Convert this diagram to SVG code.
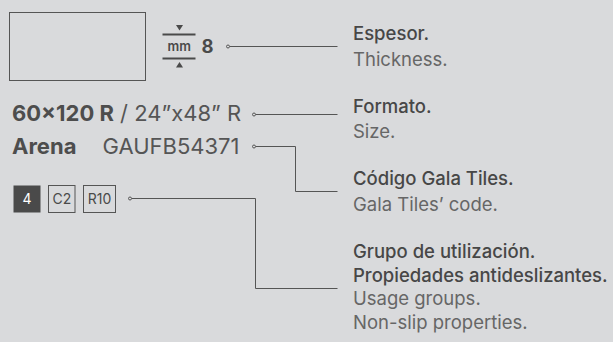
<svg xmlns="http://www.w3.org/2000/svg" width="613" height="342" viewBox="0 0 613 342">
<style>
.h{font-family:Inter,"Noto Sans",sans-serif;font-size:18.5px;font-weight:500;fill:#474747}
.s{font-family:Inter,"Noto Sans",sans-serif;font-size:18.5px;font-weight:400;fill:#666}
.lb{font-family:Inter,"Noto Sans",sans-serif;font-size:22px;font-weight:700;fill:#4d4d4d}
.lr{font-family:Inter,"Noto Sans",sans-serif;font-size:22px;font-weight:400;fill:#555}
.bx{fill:none;stroke:#555;stroke-width:1}
.bt{font-family:Inter,"Noto Sans",sans-serif;font-size:14px;font-weight:400;fill:#4a4a4a;text-anchor:middle}
.ln{fill:none;stroke:#555;stroke-width:1}
.dot{fill:#d9dadc;stroke:#555;stroke-width:1}
</style>
<rect width="613" height="342" fill="#d9dadc"/>
<g id="tile">
<rect x="9.5" y="12.5" width="136" height="68" class="bx" stroke-width="1.2"/>
</g>
<g id="thickness">
<polygon points="176,25 183,25 179.5,30.5" fill="#4a4a4a"/>
<line x1="162.5" y1="34.5" x2="195.5" y2="34.5" stroke="#4a4a4a" stroke-width="2"/>
<text x="179.2" y="51" text-anchor="middle" font-family="Inter,'Noto Sans',sans-serif" font-size="13" font-weight="600" fill="#4a4a4a">mm</text>
<line x1="162.5" y1="58.5" x2="195.5" y2="58.5" stroke="#4a4a4a" stroke-width="2"/>
<polygon points="176,67.5 183,67.5 179.5,62" fill="#4a4a4a"/>
<text x="201.5" y="52.5" font-family="Inter,'Noto Sans',sans-serif" font-size="18.5" font-weight="700" fill="#4a4a4a">8</text>
</g>
<g id="format">
<text y="120.5"><tspan x="12" class="lb">60×120 R</tspan><tspan class="lr"> / 24”x48” R</tspan></text>
</g>
<g id="code">
<text x="12" y="153.5" class="lb">Arena</text>
<text x="102.5" y="153.5" class="lr">GAUFB54371</text>
</g>
<g id="badges">
<rect x="13.5" y="185.5" width="27" height="27" fill="#4a4a4a"/>
<text x="27" y="204" class="bt" style="fill:#fff">4</text>
<rect x="48.5" y="185.5" width="26.5" height="27" class="bx"/>
<text x="61.8" y="204" class="bt">C2</text>
<rect x="83.5" y="185.5" width="32" height="27" class="bx"/>
<text x="99.5" y="204" class="bt">R10</text>
</g>
<g id="connectors">
<path class="ln" d="M229.5,46.5 H337.5"/>
<circle class="dot" cx="228" cy="46.5" r="1.5"/>
<path class="ln" d="M255.5,114.5 H337.5"/>
<circle class="dot" cx="254" cy="114.5" r="1.5"/>
<path class="ln" d="M255.5,146.5 H295.5 V191.5 H337.5"/>
<circle class="dot" cx="254" cy="146.5" r="1.5"/>
<path class="ln" d="M131.5,198.5 H255.5 V288.5 H337.5"/>
<circle class="dot" cx="130" cy="198.5" r="1.5"/>
</g>
<g id="label-espesor">
<text x="353" y="40" class="h">Espesor.</text>
<text x="353" y="65.5" class="s">Thickness.</text>
</g>
<g id="label-formato">
<text x="353" y="112.5" class="h">Formato.</text>
<text x="353" y="138" class="s">Size.</text>
</g>
<g id="label-codigo">
<text x="353" y="185" class="h">Código Gala Tiles.</text>
<text x="353" y="210.5" class="s">Gala Tiles’ code.</text>
</g>
<g id="label-grupo">
<text x="353" y="257.5" class="h">Grupo de utilización.</text>
<text x="353" y="281.5" class="h">Propiedades antideslizantes.</text>
<text x="353" y="305" class="s">Usage groups.</text>
<text x="353" y="328.5" class="s">Non-slip properties.</text>
</g>
</svg>
